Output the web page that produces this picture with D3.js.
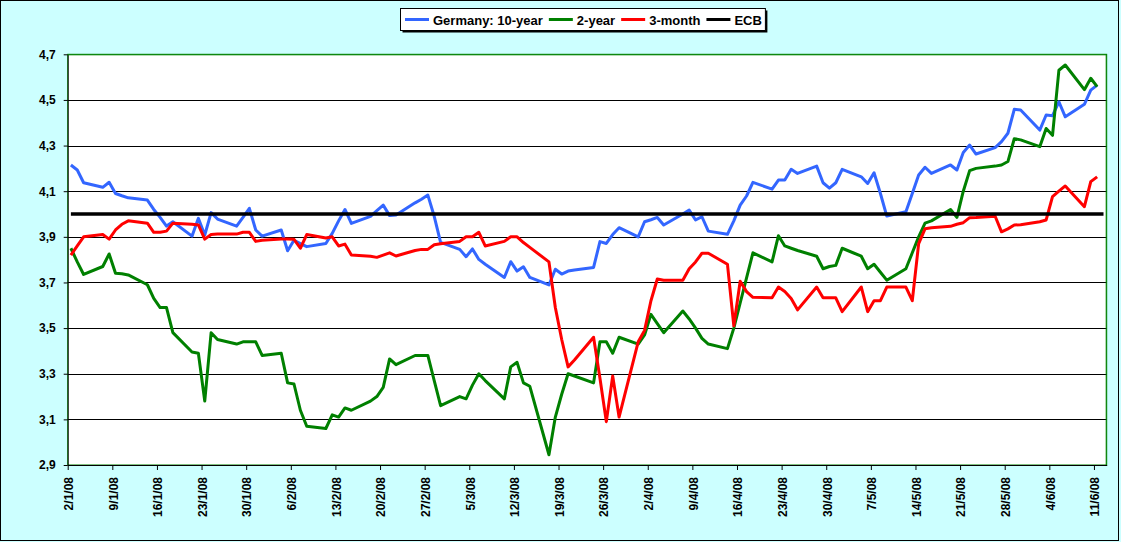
<!DOCTYPE html>
<html>
<head>
<meta charset="utf-8">
<script src="https://cdn.jsdelivr.net/npm/d3@7"></script>
<style>
  body { margin: 0; background: #ccffff; }
  svg { display: block; }
  text { font-family: "Liberation Sans", Arial, sans-serif; font-weight: bold; fill: #000; }
</style>
</head>
<body>
<div id="js_chart"></div>
<script>
// German yields vs ECB rate, 2 Jan - 11 Jun 2008
const firstDay = "2008-01-02";
const lastDay = "2008-06-11";
const axisEnd = "2008-06-13";

const tenYear = [
  4.215, 4.193, 4.137, 4.117, 4.139, 4.09, 4.08, 4.071, 4.061, 4.02, 3.985, 3.947, 3.966,
  3.903, 3.981, 3.908, 4.006, 3.978, 3.947, 3.985, 4.025, 3.93,
  3.903, 3.93, 3.839, 3.885, 3.87, 3.857, 3.871, 3.915, 3.97, 4.02, 3.959, 3.99, 4.015,
  4.039, 3.993, 3.996, 4.049, 4.065, 4.083, 3.99, 3.876,
  3.845, 3.813, 3.847, 3.801, 3.78, 3.722, 3.791, 3.75, 3.769, 3.722, 3.689, 3.758, 3.737,
  3.75, 3.755, 3.766, 3.879, 3.871, 3.91, 3.94, 3.90,
  3.966, 3.975, 3.985, 3.952, 4.0, 4.017, 3.974, 3.988, 3.925, 3.911, 3.97, 4.039, 4.079,
  4.139, 4.109, 4.149, 4.149, 4.196, 4.178, 4.21, 4.137, 4.113,
  4.137, 4.196, 4.163, 4.134, 4.181, 4.09, 3.991, 4.01, 4.09, 4.171, 4.205, 4.178, 4.215,
  4.193, 4.27, 4.302, 4.263, 4.291, 4.317, 4.354, 4.459, 4.456,
  4.368, 4.434, 4.431, 4.492, 4.426, 4.481, 4.543, 4.565
];

const twoYear = [
  3.85, 3.79, 3.735, 3.77, 3.825, 3.74, 3.738, 3.733, 3.69, 3.63, 3.59, 3.59, 3.48,
  3.395, 3.39, 3.18, 3.48, 3.45, 3.43, 3.44, 3.44, 3.44,
  3.38, 3.39, 3.26, 3.255, 3.14, 3.07, 3.06, 3.12, 3.11, 3.15, 3.14, 3.18, 3.20,
  3.24, 3.365, 3.34, 3.38, 3.38, 3.38, 3.27, 3.16,
  3.20, 3.19, 3.25, 3.30, 3.27, 3.19, 3.33, 3.35, 3.26, 3.245, 2.945, 3.11, 3.21,
  3.30, 3.29, 3.26, 3.44, 3.44, 3.39, 3.46, 3.43,
  3.47, 3.56, 3.52, 3.48, 3.575, 3.54, 3.50, 3.455, 3.43, 3.41, 3.50, 3.61, 3.72,
  3.83, 3.79, 3.905, 3.86, 3.85, 3.84, 3.815, 3.76, 3.77,
  3.775, 3.85, 3.815, 3.76, 3.78, 3.745, 3.71, 3.76, 3.83, 3.90, 3.96, 3.97, 4.02,
  3.985, 4.10, 4.19, 4.20, 4.21, 4.215, 4.23, 4.33, 4.325,
  4.295, 4.375, 4.345, 4.63, 4.653, 4.545, 4.595, 4.558
];

const threeMonth = [
  3.82, 3.86, 3.90, 3.91, 3.89, 3.93, 3.955, 3.97, 3.96, 3.92, 3.92, 3.925, 3.96,
  3.955, 3.952, 3.89, 3.91, 3.912, 3.912, 3.92, 3.92, 3.88,
  3.885, 3.89, 3.89, 3.889, 3.85, 3.91, 3.895, 3.90, 3.86, 3.868, 3.82, 3.815, 3.81,
  3.82, 3.83, 3.816, 3.84, 3.845, 3.845, 3.865, 3.87,
  3.88, 3.90, 3.90, 3.92, 3.86, 3.88, 3.90, 3.90, 3.875, 3.854, 3.79, 3.59, 3.45,
  3.33, 3.36, 3.46, 3.28, 3.09, 3.29, 3.11, 3.44,
  3.49, 3.62, 3.715, 3.71, 3.71, 3.76, 3.79, 3.828, 3.828, 3.78, 3.51, 3.705, 3.66,
  3.635, 3.633, 3.68, 3.66, 3.63, 3.58, 3.68, 3.633, 3.633,
  3.633, 3.572, 3.68, 3.572, 3.62, 3.62, 3.68, 3.68, 3.62, 3.87, 3.935, 3.94, 3.946,
  3.955, 3.962, 3.984, 3.985, 3.99, 3.922, 3.935, 3.952, 3.953,
  3.966, 3.974, 4.076, 4.10, 4.123, 4.032, 4.142, 4.163
];

const ecbRate = 4.0;
const ecbStart = "2008-01-02";
const ecbEnd = "2008-06-12";

const yTicks = [2.9, 3.1, 3.3, 3.5, 3.7, 3.9, 4.1, 4.3, 4.5, 4.7];

const seriesNames = ["Germany: 10-year", "2-year", "3-month", "ECB"];
const seriesColors = ["#3366ff", "#008000", "#ff0000", "#000000"];

const width = 1121, height = 542;
const parseDay = d3.utcParse("%Y-%m-%d");

// trading days (weekdays) that the yield series are recorded on
const days = d3.utcDays(parseDay(firstDay), d3.utcDay.offset(parseDay(lastDay), 1))
  .filter(d => d.getUTCDay() % 6 !== 0);

const x = d3.scaleUtc()
  .domain([parseDay(firstDay), parseDay(axisEnd)])
  .range([67.7, 1106.7]);
const y = d3.scaleLinear().domain([2.9, 4.7]).range([465, 54.3]);

// excel date axis puts each point in the middle of its day
const xMid = d => x(d3.utcHour.offset(d, 12));

const locale = d3.formatLocale({ decimal: ",", thousands: ".", grouping: [3], currency: ["", "€"] });
const yFormat = locale.format(".1f");

const svg = d3.select("#js_chart").append("svg")
  .attr("width", width)
  .attr("height", height);

svg.append("rect")
  .attr("x", 0.5).attr("y", 0.5)
  .attr("width", 1118).attr("height", 540)
  .attr("fill", "#ccffff")
  .attr("stroke", "#000");

const [px0, px1] = x.range();
const [py0, py1] = y.range();

svg.append("rect")
  .attr("x", px0).attr("y", py1)
  .attr("width", px1 - px0).attr("height", py0 - py1)
  .attr("fill", "#fff")
  .attr("stroke", "#008000");

svg.append("g")
  .selectAll("line")
  .data(yTicks.slice(1, -1))
  .join("line")
    .attr("x1", px0).attr("x2", px1)
    .attr("y1", d => Math.round(y(d)) + 0.5)
    .attr("y2", d => Math.round(y(d)) + 0.5)
    .attr("stroke", "#000");

const yAxis = svg.append("g")
  .attr("transform", `translate(${px0},0)`)
  .call(d3.axisLeft(y).tickValues(yTicks).tickSize(4).tickSizeOuter(0).tickPadding(8).tickFormat(yFormat));
yAxis.select(".domain").attr("stroke", "#000");
yAxis.selectAll("text").attr("font-size", 12).style("font-family", null);

const xTicks = d3.utcDay.range(parseDay(firstDay), d3.utcDay.offset(parseDay(lastDay), 1), 7);
const xAxis = svg.append("g")
  .attr("transform", `translate(0,${py0})`)
  .call(d3.axisBottom(x).tickValues(xTicks).tickSize(5).tickSizeOuter(0).tickFormat(d3.utcFormat("%-d/%-m/%y")));
xAxis.select(".domain").attr("stroke", "#000");
xAxis.selectAll("text")
  .attr("font-size", 12)
  .style("font-family", null)
  .attr("transform", "rotate(-90)")
  .attr("text-anchor", "end")
  .attr("x", -12)
  .attr("y", 0)
  .attr("dy", "0.4em");

// the green top/right border sits above the gridlines
svg.append("path")
  .attr("d", `M${px0},${py1 + 0.5}H${px1 - 0.5}V${py0}`)
  .attr("fill", "none")
  .attr("stroke", "#008000");

const line = d3.line()
  .x((d, i) => xMid(days[i]))
  .y(d => y(d));

[tenYear, twoYear, threeMonth].forEach(function(values, i) {
  svg.append("path")
    .datum(values)
    .attr("fill", "none")
    .attr("stroke", seriesColors[i])
    .attr("stroke-width", 3)
    .attr("stroke-linejoin", "round")
    .attr("d", line);
});

svg.append("line")
  .attr("x1", xMid(parseDay(ecbStart)))
  .attr("x2", xMid(parseDay(ecbEnd)))
  .attr("y1", y(ecbRate))
  .attr("y2", y(ecbRate))
  .attr("stroke", seriesColors[3])
  .attr("stroke-width", 3.5);

// legend
const legend = svg.append("g");
const shadow = legend.append("rect").attr("fill", "#000");
const box = legend.append("rect").attr("fill", "#fff").attr("stroke", "#000");
let lx = 405;
let textEnd = lx;
seriesNames.forEach(function(name, i) {
  legend.append("line")
    .attr("x1", lx).attr("x2", lx + 24)
    .attr("y1", 19.5).attr("y2", 19.5)
    .attr("stroke", seriesColors[i])
    .attr("stroke-width", 3);
  const t = legend.append("text")
    .attr("x", lx + 28)
    .attr("y", 24.5)
    .attr("font-size", 13)
    .text(name);
  textEnd = lx + 28 + t.node().getComputedTextLength();
  lx = textEnd + 6;
});
box.attr("x", 400.5).attr("y", 8.5).attr("width", textEnd + 3 - 400).attr("height", 22);
shadow.attr("x", 402.5).attr("y", 10.5).attr("width", textEnd + 3 - 400).attr("height", 22);
</script>
</body>
</html>
